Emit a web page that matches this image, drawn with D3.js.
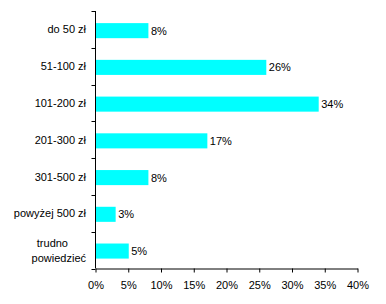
<!DOCTYPE html>
<html><head><meta charset="utf-8">
<script src="https://cdn.jsdelivr.net/npm/d3@7"></script>
<style>
body{margin:0;background:#fff;}
svg text{font-family:Arial,"Liberation Sans",sans-serif;font-size:11px;fill:#000;}
</style></head>
<body>
<svg id="c" width="386" height="304"></svg>
<script>
const categories = ["do 50 zł","51-100 zł","101-200 zł","201-300 zł","301-500 zł","powyżej 500 zł","trudno\npowiedzieć"];
const values = [8,26,34,17,8,3,5];
const xTicks = [0,5,10,15,20,25,30,35,40];

const svg = d3.select("#c");
const mLeft = 95.5, mRight = 357.5, mTop = 11, mBottom = 268.5;
const x = d3.scaleLinear().domain([0,40]).range([mLeft,mRight]);
const y = d3.scaleBand().domain(categories).range([mTop,mBottom]).paddingInner(0.59).paddingOuter(0.3).align(0.55);

// bars
svg.selectAll("rect.bar").data(values).enter().append("rect")
  .attr("x", x(0)+0.5)
  .attr("y",(d,i)=>y(categories[i]))
  .attr("width",d=>x(d)-x(0))
  .attr("height",y.bandwidth())
  .attr("fill","#00ffff");

// value labels
svg.selectAll("text.val").data(values).enter().append("text")
  .attr("x",d=>x(d)+3)
  .attr("y",(d,i)=>y(categories[i])+y.bandwidth()/2+4)
  .text(d=>d+"%");

// y axis line
svg.append("line").attr("x1",mLeft).attr("x2",mLeft).attr("y1",mTop).attr("y2",mBottom).attr("stroke","#000");
// y ticks at band boundaries
const step = (mBottom-mTop)/categories.length;
d3.range(categories.length+1).forEach(i=>{
  const yy = Math.round(mTop+i*step)+0.5;
  svg.append("line").attr("x1",mLeft-4).attr("x2",mLeft).attr("y1",yy).attr("y2",yy).attr("stroke","#000");
});
// y labels
categories.forEach((c,i)=>{
  const cy = mTop+(i+0.5)*step;
  const lines = c.split("\n");
  const t = svg.append("text").attr("text-anchor","end");
  lines.forEach((l,j)=>{
    t.append("tspan").attr("x", l==="trudno"?68:86)
     .attr("y", cy+4+(j-(lines.length-1)/2)*15).text(l);
  });
});

// x axis
const xAxis = d3.axisBottom(x).tickValues(xTicks).tickFormat(d=>d+"%").tickSize(4).tickSizeOuter(0);
const g = svg.append("g").attr("transform",`translate(0,${mBottom})`).call(xAxis);
g.select(".domain").attr("stroke","#000");
g.selectAll(".tick line").attr("stroke","#000");
g.selectAll(".tick text").attr("dy","0").attr("y",20).style("font-family","Arial,'Liberation Sans',sans-serif").style("font-size","11px");
</script>
</body></html>
